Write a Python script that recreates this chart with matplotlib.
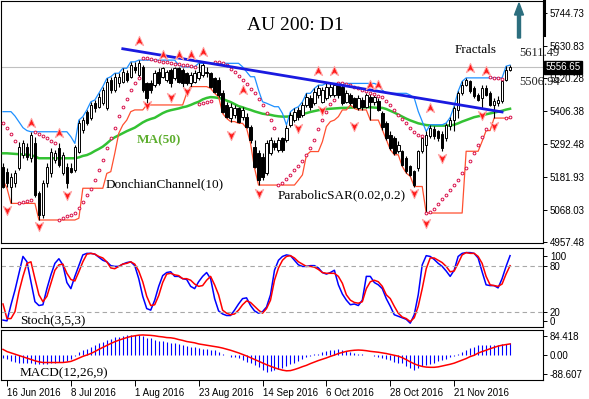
import numpy as np
import matplotlib
matplotlib.use('Agg')
import matplotlib.pyplot as plt
from matplotlib.path import Path
from matplotlib.patches import FancyArrow
from matplotlib.lines import Line2D

# --- AU 200 daily candles ---
open_ = [5216, 5199, 5148, 5159, 5210, 5256, 5285, 5245, 5296, 5125,
         5050, 5159, 5193, 5239, 5279, 5193, 5216, 5211, 5205, 5268,
         5342, 5405, 5382, 5434, 5422, 5434, 5416, 5514, 5479, 5502,
         5508, 5537, 5525, 5559, 5531, 5559, 5502, 5502, 5496, 5542,
         5525, 5514, 5548, 5519, 5554, 5548, 5537, 5502, 5508, 5519,
         5531, 5542, 5537, 5519, 5514, 5468, 5428, 5382, 5393, 5416,
         5388, 5388, 5354, 5285, 5262, 5251, 5193, 5262, 5296, 5273,
         5313, 5308, 5359, 5376, 5411, 5393, 5428, 5451, 5434, 5462,
         5439, 5451, 5462, 5462, 5496, 5491, 5439, 5462, 5451, 5416,
         5445, 5422, 5456, 5439, 5440, 5400, 5366, 5326, 5315, 5269,
         5269, 5246, 5217, 5200, 5212, 5269, 5292, 5320, 5345, 5337,
         5330, 5315, 5355, 5378, 5412, 5469, 5498, 5509, 5486, 5463,
         5452, 5486, 5469, 5429, 5435, 5440, 5515, 5549]
high = [5228, 5211, 5193, 5205, 5302, 5308, 5296, 5336, 5319, 5131,
        5170, 5228, 5279, 5273, 5296, 5268, 5228, 5228, 5291, 5376,
        5388, 5411, 5439, 5445, 5468, 5491, 5519, 5525, 5537, 5537,
        5554, 5548, 5576, 5576, 5582, 5565, 5508, 5514, 5548, 5554,
        5559, 5548, 5554, 5559, 5559, 5554, 5542, 5542, 5548, 5571,
        5571, 5559, 5542, 5525, 5525, 5479, 5439, 5434, 5428, 5422,
        5422, 5399, 5359, 5308, 5273, 5262, 5308, 5319, 5308, 5319,
        5319, 5359, 5405, 5416, 5422, 5439, 5468, 5462, 5485, 5496,
        5491, 5502, 5502, 5502, 5502, 5496, 5479, 5468, 5456, 5462,
        5456, 5468, 5468, 5462, 5452, 5406, 5372, 5337, 5320, 5303,
        5275, 5252, 5223, 5206, 5275, 5320, 5337, 5360, 5355, 5343,
        5337, 5366, 5385, 5424, 5475, 5509, 5521, 5515, 5492, 5469,
        5498, 5498, 5475, 5452, 5458, 5515, 5561, 5565]
low = [5142, 5148, 5090, 5148, 5205, 5245, 5239, 5233, 5113, 5033,
       5039, 5148, 5182, 5228, 5216, 5188, 5142, 5193, 5199, 5262,
       5331, 5359, 5376, 5405, 5416, 5428, 5411, 5468, 5474, 5491,
       5502, 5508, 5519, 5537, 5525, 5474, 5428, 5468, 5491, 5496,
       5519, 5508, 5491, 5514, 5502, 5491, 5496, 5491, 5502, 5514,
       5525, 5525, 5485, 5468, 5456, 5399, 5382, 5371, 5382, 5365,
       5376, 5348, 5296, 5211, 5153, 5170, 5188, 5256, 5273, 5268,
       5268, 5302, 5354, 5371, 5376, 5388, 5422, 5411, 5428, 5451,
       5434, 5445, 5456, 5456, 5451, 5428, 5434, 5428, 5416, 5411,
       5411, 5416, 5376, 5428, 5406, 5343, 5309, 5275, 5257, 5263,
       5217, 5194, 5183, 5148, 5200, 5263, 5057, 5315, 5310, 5303,
       5269, 5303, 5343, 5340, 5383, 5463, 5492, 5469, 5452, 5440,
       5418, 5458, 5423, 5383, 5423, 5435, 5509, 5543]
close = [5148, 5159, 5182, 5193, 5285, 5296, 5251, 5325, 5119, 5050,
         5159, 5216, 5268, 5262, 5222, 5256, 5159, 5199, 5285, 5365,
         5376, 5365, 5428, 5416, 5456, 5479, 5508, 5479, 5525, 5525,
         5542, 5514, 5565, 5548, 5571, 5479, 5451, 5479, 5537, 5502,
         5554, 5542, 5502, 5554, 5508, 5502, 5502, 5531, 5537, 5542,
         5565, 5537, 5491, 5474, 5462, 5405, 5388, 5422, 5416, 5371,
         5411, 5354, 5308, 5216, 5170, 5182, 5296, 5308, 5285, 5308,
         5273, 5348, 5393, 5405, 5388, 5428, 5456, 5422, 5474, 5485,
         5479, 5491, 5491, 5496, 5462, 5434, 5468, 5434, 5422, 5451,
         5422, 5462, 5439, 5456, 5412, 5352, 5315, 5280, 5263, 5292,
         5223, 5200, 5189, 5154, 5269, 5314, 5326, 5349, 5320, 5315,
         5280, 5360, 5378, 5418, 5469, 5498, 5515, 5475, 5458, 5446,
         5486, 5463, 5429, 5440, 5446, 5509, 5549, 5557]

# indicators as drawn on the chart
ma50 = ([5262, 5262, 5261, 5260, 5259, 5258, 5257, 5256, 5251] + [5245] * 10 +
        [5248, 5253, 5256, 5262, 5270, 5277, 5285, 5296, 5308, 5317,
         5324, 5331, 5338, 5344, 5350, 5359, 5368, 5375, 5380, 5384,
         5392, 5400, 5406, 5410, 5413, 5416, 5420, 5423, 5428, 5434,
         5439, 5447, 5452, 5455, 5454, 5452, 5449, 5443, 5438, 5431,
         5424, 5420, 5415, 5411, 5406, 5402, 5398, 5396, 5394, 5391,
         5389, 5388, 5388, 5389, 5391, 5394, 5397, 5400, 5404, 5407,
         5410, 5412, 5414, 5415, 5416, 5417, 5418, 5418, 5419, 5419,
         5420, 5420, 5420, 5420, 5419, 5418, 5418, 5414, 5408, 5402,
         5395, 5388, 5381, 5375, 5370, 5365, 5362, 5359, 5358, 5357,
         5357, 5357, 5357, 5358, 5360, 5365, 5371, 5376, 5381, 5386,
         5389, 5392, 5396, 5399, 5402, 5405, 5408, 5412, 5415])
donch_up = ([5405, 5405, 5405, 5390, 5370, 5350, 5340, 5336, 5336] + [5336] * 8 +
            [5319, 5296, 5376, 5388, 5411, 5439, 5445, 5468, 5491, 5519, 5525,
             5537, 5537, 5554, 5554, 5576, 5576, 5582] + [5582] * 9 + [5565] +
            [5559] * 4 + [5571] * 11 +
            [5559, 5542, 5525, 5525, 5479, 5439, 5434, 5428, 5422, 5422, 5399,
             5359, 5405, 5416, 5422, 5439, 5468, 5468, 5485, 5496, 5496] +
            [5502] * 13 +
            [5496, 5479, 5468, 5468, 5468, 5468, 5468, 5468, 5462, 5452, 5406,
             5372, 5337, 5360, 5360, 5360, 5360, 5366, 5385, 5424, 5475, 5509] +
            [5521] * 10 + [5561, 5565])
donch_lo = ([5170, 5142] + [5090] * 7 + [5033] * 10 + [5039] + [5142] * 6 +
            [5193, 5199, 5262, 5331, 5359, 5376, 5405] + [5411] * 3 + [5428] * 10 +
            [5468] + [5491] * 5 +
            [5485, 5468, 5456, 5399, 5382, 5371, 5371, 5365, 5365, 5348, 5296, 5211] +
            [5153] * 10 + [5170, 5188, 5256] + [5268] * 3 +
            [5302, 5354, 5371, 5376, 5388, 5411, 5411, 5428, 5416] + [5411] * 3 +
            [5376] * 3 + [5343, 5309, 5275, 5257, 5257, 5217, 5194, 5183] +
            [5148] * 3 + [5057] * 10 + [5269] * 4 + [5303, 5340, 5340] + [5383] * 5)
sar = [5365, 5350, 5330, 5305, 5090, 5094, 5098, 5103, 5336, 5330,
       5322, 5314, 5305, 5296, 5034, 5040, 5046, 5051, 5058, 5075,
       5095, 5118, 5140, 5170, 5205, 5240, 5280, 5315, 5350, 5390,
       5420, 5450, 5478, 5505, 5520, 5590, 5588, 5585, 5583, 5580,
       5577, 5575, 5572, 5570, 5568, 5566, 5564, 5562, 5560, 5430,
       5434, 5438, 5442, 5576, 5574, 5571, 5566, 5552, 5540, 5528,
       5515, 5500, 5484, 5468, 5450, 5428, 5400, 5375, 5350, 5153,
       5160, 5175, 5189, 5203, 5217, 5234, 5255, 5280, 5309, 5345,
       5375, 5405, 5430, 5445, 5505, 5503, 5501, 5498, 5490, 5485,
       5480, 5476, 5470, 5465, 5460, 5455, 5442, 5428, 5410, 5395,
       5380, 5365, 5350, 5336, 5324, 5322, 5057, 5060, 5072, 5089,
       5106, 5120, 5137, 5154, 5172, 5194, 5212, 5234, 5263, 5290,
       5318, 5345, 5525, 5522, 5520, 5518, 5383, 5388]
frac_up_bar = [7, 14, 34, 40, 44, 47, 50, 60, 79, 83, 92, 94, 107, 117, 121]
frac_up_val = [5366, 5332, 5646, 5600, 5598, 5598, 5610, 5480, 5543, 5543,
               5495, 5495, 5418, 5555, 5543]
frac_dn_bar = [1, 9, 16, 36, 42, 46, 57, 64, 74, 80, 88, 103, 106, 110, 120, 123]
frac_dn_val = [5069, 5011, 5120, 5429, 5454, 5475, 5326, 5126, 5349, 5412,
               5355, 5126, 5023, 5246, 5395, 5355]
trend_bar = [30, 125]
trend_val = [5621, 5404]
last_price = 5556.65

stoch_k = [9, 8, 29, 48, 70, 92, 85, 59, 33, 28,
           29, 50, 68, 83, 89, 81, 58, 50, 66, 80,
           94, 96, 96, 95, 91, 87, 85, 80, 79, 79,
           82, 84, 85, 80, 63, 40, 24, 22, 35, 53,
           67, 71, 72, 66, 66, 63, 62, 53, 50, 59,
           66, 71, 63, 37, 21, 17, 15, 15, 22, 30,
           37, 38, 28, 21, 18, 20, 26, 42, 74, 87,
           92, 94, 93, 87, 81, 79, 79, 80, 80, 77,
           71, 69, 71, 74, 55, 43, 35, 29, 30, 28,
           35, 66, 66, 58, 55, 50, 37, 27, 16, 14,
           12, 10, 5, 16, 42, 81, 93, 92, 88, 83,
           79, 73, 66, 74, 92, 96, 97, 97, 96, 90,
           72, 55, 54, 54, 51, 63, 79, 93]
stoch_d = [30, 11, 11, 20, 46, 66, 83, 85, 63, 42,
           33, 40, 57, 74, 81, 82, 70, 62, 60, 72,
           85, 95, 96, 95, 92, 90, 85, 77, 76, 79,
           82, 83, 85, 82, 73, 59, 40, 28, 29, 41,
           58, 69, 70, 68, 67, 63, 63, 61, 56, 53,
           54, 61, 66, 55, 42, 22, 18, 16, 17, 22,
           29, 34, 32, 27, 22, 18, 24, 35, 61, 77,
           87, 92, 93, 90, 85, 82, 79, 79, 78, 75,
           71, 70, 70, 70, 66, 57, 42, 35, 32, 31,
           33, 50, 59, 61, 59, 53, 42, 37, 27, 18,
           13, 11, 7, 12, 27, 50, 76, 90, 90, 87,
           84, 79, 72, 73, 83, 94, 97, 96, 96, 92,
           83, 66, 55, 54, 53, 56, 69, 80]
macd_hist = [-15, -22, -29, -34, -37, -38, -40, -40, -41, -45,
             -45, -41, -37, -37, -33, -32, -27, -19, -6, 10,
             19, 27, 36, 46, 53, 60, 68, 73, 79, 82,
             87, 89, 92, 92, 89, 86, 78, 74, 69, 64,
             63, 59, 55, 51, 48, 45, 40, 37, 34, 30,
             28, 25, 22, 19, 13, 3, -3, -10, -13, -17,
             -24, -32, -40, -48, -55, -70, -81, -75, -70, -66,
             -60, -52, -45, -36, -27, -18, -11, -4, 1, 5,
             10, 16, 20, 23, 24, 21, 17, 12, 7, 4,
             2, 0, -3, -6, -10, -14, -18, -25, -32, -38,
             -40, -50, -60, -70, -63, -52, -46, -41, -36, -30,
             -25, -18, -12, -6, 2, 14, 23, 29, 35, 42,
             43, 43, 43, 43, 44, 47, 49, 53]
macd_signal = [24, 14, 8, 2, -4, -10, -16, -22, -28, -33,
               -36, -36, -36, -36, -36, -36, -34, -31, -24, -16,
               -8, -2, 5, 14, 24, 33, 42, 51, 59, 66,
               72, 78, 83, 86, 89, 90, 89, 88, 86, 83,
               81, 78, 77, 74, 69, 65, 60, 57, 54, 49,
               46, 43, 40, 37, 34, 30, 25, 20, 14, 8,
               1, -6, -14, -22, -30, -38, -46, -53, -60, -66,
               -71, -74, -73, -68, -62, -55, -49, -41, -34, -27,
               -21, -15, -8, -2, 5, 10, 15, 18, 20, 21,
               20, 18, 15, 13, 11, 8, 5, 1, -3, -7,
               -14, -23, -33, -42, -49, -54, -57, -58, -58, -56,
               -52, -48, -44, -39, -32, -25, -18, -9, -3, 7,
               14, 20, 27, 33, 39, 43, 46, 49]

date_bars = [1, 17, 33, 49, 65, 81, 97, 113]
date_labels = ['16 Jun 2016', '8 Jul 2016', '1 Aug 2016', '23 Aug 2016',
               '14 Sep 2016', '6 Oct 2016', '28 Oct 2016', '21 Nov 2016']
price_ticks = [5744.73, 5630.83, 5520.28, 5406.38, 5292.48, 5181.93, 5068.03, 4957.48]

SERIF = 'Liberation Serif'
SANS = 'Liberation Sans'
W, H = 589, 399

fig = plt.figure(figsize=(W / 100, H / 100), dpi=100)


def px_box(x0, y0, x1, y1):
    return [x0 / W, 1 - y1 / H, (x1 - x0) / W, (y1 - y0) / H]


ax = fig.add_axes(px_box(1, 1, 543, 243))
ax_st = fig.add_axes(px_box(1, 248, 543, 327), sharex=ax)
ax_m = fig.add_axes(px_box(1, 330, 543, 380), sharex=ax)

x = np.arange(len(close))
o, h, l, c = map(np.array, (open_, high, low, close))

# candles
ax.vlines(x, l, h, color='black', lw=0.8, zorder=4)
bull = c >= o
ax.bar(x, np.abs(c - o), bottom=np.minimum(o, c), width=0.62,
       color=np.where(bull, 'white', 'black'), edgecolor='black', lw=0.7, zorder=5)

ax.axhline(last_price, color='#C0C0C0', lw=0.8, zorder=1)
ax.plot(x, ma50, color='#33C233', lw=1.8, zorder=3)
ax.plot(x, donch_up, color='#1E90FF', lw=0.9, zorder=3)
ax.plot(x, donch_lo, color='#FF5030', lw=0.9, zorder=3)
ax.plot(x, sar, ls='none', marker='o', ms=2.0, mfc='white', mec='#D8104A',
        mew=0.7, zorder=6)
ax.plot(trend_bar, trend_val, color='#1A1AE0', lw=2.0, zorder=7)

arrow_up = Path([(0, 1), (0.8, -0.8), (0, -0.3), (-0.8, -0.8), (0, 1)],
                [Path.MOVETO, Path.LINETO, Path.LINETO, Path.LINETO, Path.CLOSEPOLY])
arrow_dn = Path([(0, -1), (0.8, 0.8), (0, 0.3), (-0.8, 0.8), (0, -1)],
                [Path.MOVETO, Path.LINETO, Path.LINETO, Path.LINETO, Path.CLOSEPOLY])
ax.plot(frac_up_bar, frac_up_val, ls='none', marker=arrow_up, ms=7.5,
        mfc='#FF1A1A', mec='#FFA8A8', mew=0.7, zorder=8)
ax.plot(frac_dn_bar, frac_dn_val, ls='none', marker=arrow_dn, ms=7.5,
        mfc='#FF1A1A', mec='#FFA8A8', mew=0.7, zorder=8)

ax.set_xlim(-0.5, 135.25)
ax.set_ylim(4954, 5785)
ax.yaxis.tick_right()
ax.set_yticks(price_ticks)
ax.set_yticklabels([f'{v:.2f}' for v in price_ticks])
ax.text(1.004, last_price, f'{last_price:.2f}', transform=ax.get_yaxis_transform(),
        color='white', fontsize=7, family=SANS, va='center', ha='left', zorder=10,
        bbox=dict(boxstyle='square,pad=0.15', fc='black', ec='black'), clip_on=False)

# stochastic
ax_st.plot(x, stoch_k, color='#0000FF', lw=1.1)
ax_st.plot(x, stoch_d, color='#FF0000', lw=1.1)
for lvl in (80, 20):
    ax_st.axhline(lvl, color='#A8A8A8', lw=0.8, ls=(0, (4, 3)))
ax_st.set_ylim(0, 103)
ax_st.yaxis.tick_right()
ax_st.set_yticks([92.6, 80, 20, 7.8])
ax_st.set_yticklabels(['100', '80', '20', '0'])

# macd
ax_m.vlines(x, 0, macd_hist, color='#0000FF', lw=0.8)
ax_m.plot(x, macd_signal, color='#FF0000', lw=1.1)
ax_m.set_ylim(-116, 112.6)
ax_m.yaxis.tick_right()
ax_m.set_yticks([84.418, 0, -88.607])
ax_m.set_yticklabels(['84.418', '0.00', '-88.607'])
ax_m.set_xticks(date_bars)
ax_m.set_xticklabels(date_labels, ha='left')

for a in (ax, ax_st, ax_m):
    for s in a.spines.values():
        s.set_color('black')
        s.set_linewidth(0.8)
    a.tick_params(axis='y', direction='out', length=3, width=0.7, pad=2,
                  labelsize=7, colors='black')
    for t in a.get_yticklabels():
        t.set_family(SANS)
for a in (ax, ax_st):
    a.tick_params(axis='x', bottom=False, labelbottom=False)
ax_m.tick_params(axis='x', direction='out', length=4, width=0.7, pad=2, labelsize=7)
for t in ax_m.get_xticklabels():
    t.set_family(SANS)


def label(px, py, s, **kw):
    fig.text(px / W, 1 - py / H, s, va='center', family=SERIF, **kw)


label(295, 25, 'AU 200: D1', ha='center', fontsize=14)
label(137, 140, 'MA(50)', ha='left', fontsize=9.5, fontweight='bold', color='#5DAE2E')
label(106, 184, 'DonchianChannel(10)', ha='left', fontsize=9.5)
label(278, 195, 'ParabolicSAR(0.02,0.2)', ha='left', fontsize=9.5)
label(455, 50, 'Fractals', ha='left', fontsize=9.5)
label(519, 53, '5611.49', ha='left', fontsize=9, color='#222222')
label(519, 82, '5506.94', ha='left', fontsize=9, color='#222222')
label(20, 320, 'Stoch(3,5,3)', ha='left', fontsize=9.5)
label(20, 373, 'MACD(12,26,9)', ha='left', fontsize=9.5)

# marker on the price scale and the up arrow
fig.add_artist(Line2D([544 / W, 544 / W], [1, 1 - 35 / H], color='black', lw=2.2))
fig.add_artist(FancyArrow(519 / W, 1 - 38 / H, 0, 35 / H, width=3 / W,
                          head_width=9 / W, head_length=12 / H,
                          length_includes_head=True, color='#2C6E7E',
                          transform=fig.transFigure))

fig.savefig('out.png', dpi=100)
